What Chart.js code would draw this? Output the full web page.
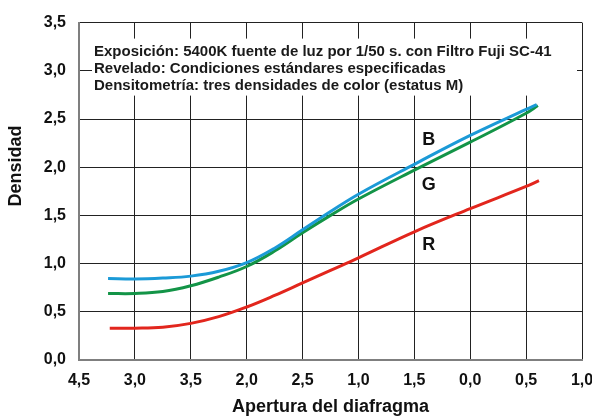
<!DOCTYPE html>
<html>
<head>
<meta charset="utf-8">
<script src="https://cdn.jsdelivr.net/npm/chart.js@4.4.1/dist/chart.umd.min.js"></script>
<style>
  html, body { margin: 0; padding: 0; background: #fff; }
  #chart { display: block; }
</style>
</head>
<body>
<canvas id="chart" width="592" height="419"></canvas>
<script>
// tick labels as printed on the original sheet
var xTickLabels = ['4,5', '3,0', '3,5', '2,0', '2,5', '1,0', '1,5', '0,0', '0,5', '1,0'];
var yTickValues = [0, 0.5, 1, 1.5, 2, 2.5, 3, 3.5];

// curves (x in tick index units)
var xBlue = [0.52, 1, 1.5, 2, 2.5, 3, 3.5, 4, 4.5, 5, 6, 7, 8, 8.19];
var yBlue = [0.845, 0.84, 0.85, 0.87, 0.92, 1.01, 1.16, 1.35, 1.54, 1.72, 2.03, 2.33, 2.60, 2.65];

var xGreen = [0.52, 1, 1.5, 2, 2.5, 3, 3.5, 4, 4.5, 5, 6, 7, 8, 8.21];
var yGreen = [0.69, 0.69, 0.71, 0.77, 0.86, 0.97, 1.13, 1.32, 1.50, 1.67, 1.97, 2.26, 2.56, 2.64];

var xRed = [0.55, 1, 1.5, 2, 2.5, 3, 3.5, 4, 4.5, 5, 6, 7, 8, 8.23];
var yRed = [0.33, 0.33, 0.34, 0.38, 0.45, 0.55, 0.67, 0.80, 0.93, 1.06, 1.33, 1.57, 1.80, 1.86];

// curve letters
var curveLabels = [
  { text: 'B', x: 6.26, y: 2.285 },
  { text: 'G', x: 6.26, y: 1.817 },
  { text: 'R', x: 6.26, y: 1.194 }
];

var noteLines = [
  'Exposición: 5400K fuente de luz por 1/50 s. con Filtro Fuji SC-41',
  'Revelado: Condiciones estándares especificadas',
  'Densitometría: tres densidades de color (estatus M)'
];

var FONT = "'Liberation Sans', Arial, Helvetica, sans-serif";

function toPoints(xs, ys) {
  var pts = [];
  for (var i = 0; i < xs.length; i++) {
    pts.push({ x: xs[i], y: ys[i] });
  }
  return pts;
}

function comma(v) {
  return v.toFixed(1).replace('.', ',');
}

(function (Chart) {
  "use strict";

  Chart.defaults.font.family = FONT;

  var extras = {
    id: 'extras',
    beforeDatasetsDraw: function (chart) {
      var ctx = chart.ctx;
      var a = chart.chartArea;
      ctx.save();
      // white box for the notes, hides grid behind it
      ctx.fillStyle = '#ffffff';
      ctx.fillRect(a.left + 13, a.top + 16, a.right - a.left - 18, 57);
      ctx.fillStyle = '#1a1a1a';
      ctx.font = 'bold 15px ' + FONT;
      ctx.textAlign = 'left';
      ctx.textBaseline = 'alphabetic';
      for (var i = 0; i < noteLines.length; i++) {
        ctx.fillText(noteLines[i], a.left + 15, a.top + 33 + i * 17);
      }
      ctx.restore();
    },
    afterDatasetsDraw: function (chart) {
      var ctx = chart.ctx;
      var xs = chart.scales.x, ys = chart.scales.y;
      ctx.save();
      ctx.fillStyle = '#111111';
      ctx.font = 'bold 18px ' + FONT;
      ctx.textAlign = 'center';
      ctx.textBaseline = 'middle';
      curveLabels.forEach(function (l) {
        ctx.fillText(l.text, xs.getPixelForValue(l.x), ys.getPixelForValue(l.y));
      });
      // y axis title
      ctx.translate(16, 166);
      ctx.rotate(-Math.PI / 2);
      ctx.fillText('Densidad', 0, 0);
      ctx.restore();
    }
  };

  var ctx = document.getElementById('chart').getContext('2d');

  new Chart(ctx, {
    type: 'line',
    data: {
      datasets: [
        { label: 'B', data: toPoints(xBlue, yBlue), borderColor: '#1b9ad7' },
        { label: 'G', data: toPoints(xGreen, yGreen), borderColor: '#139447' },
        { label: 'R', data: toPoints(xRed, yRed), borderColor: '#e2261d' }
      ]
    },
    options: {
      responsive: false,
      animation: false,
      devicePixelRatio: 1,
      layout: { padding: { top: 20, right: 10, left: 0, bottom: 0 } },
      elements: {
        point: { radius: 0 },
        line: { borderWidth: 3, tension: 0.4, fill: false, borderCapStyle: 'butt' }
      },
      plugins: {
        legend: { display: false },
        tooltip: { enabled: false }
      },
      scales: {
        x: {
          type: 'linear',
          min: 0,
          max: 9,
          afterFit: function (s) { s.height = 59; s.paddingLeft = 0; s.paddingRight = 0; },
          ticks: {
            stepSize: 1,
            autoSkip: false,
            maxRotation: 0,
            padding: 11,
            color: '#111',
            font: { size: 16, weight: 'bold' },
            callback: function (v) { return xTickLabels[v]; }
          },
          grid: { color: '#222', lineWidth: 1, drawTicks: false },
          border: { color: '#7f7f7f', width: 2 },
          title: {
            display: true,
            text: 'Apertura del diafragma',
            color: '#111',
            font: { size: 18, weight: 'bold' },
            padding: { top: 0, bottom: 1 }
          }
        },
        y: {
          min: 0,
          max: 3.5,
          afterFit: function (s) { s.width = 79; },
          afterBuildTicks: function (s) {
            s.ticks = yTickValues.map(function (v) { return { value: v }; });
          },
          ticks: {
            padding: 13,
            color: '#111',
            font: { size: 16, weight: 'bold' },
            callback: function (v) { return comma(v); }
          },
          grid: { color: '#222', lineWidth: 1, drawTicks: false },
          border: { color: '#7f7f7f', width: 2 }
        }
      }
    },
    plugins: [extras]
  });

})(Chart);
</script>
</body>
</html>
